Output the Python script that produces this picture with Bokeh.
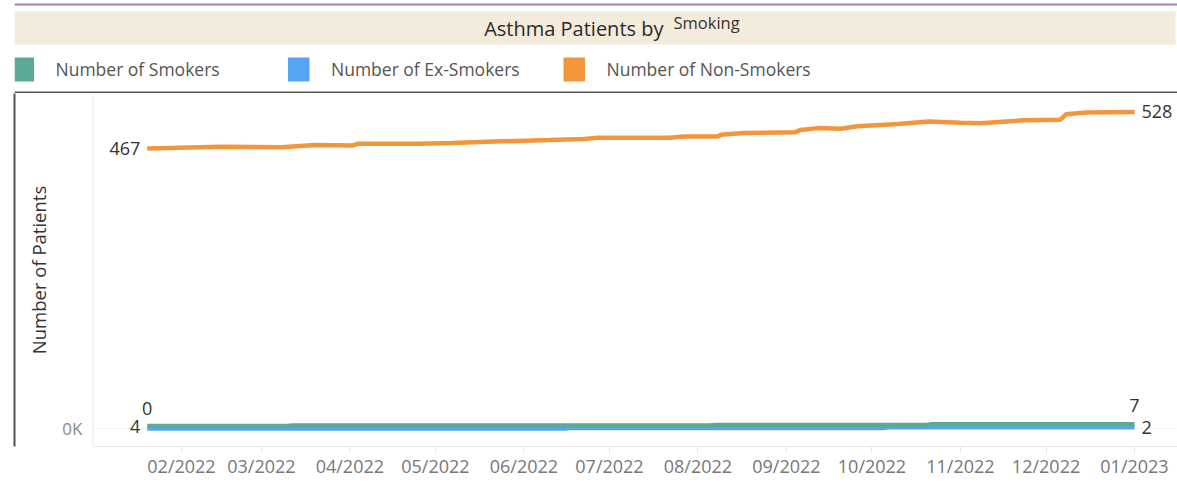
import pandas as pd
from bokeh.plotting import figure
from bokeh.layouts import column
from bokeh.models import (Range1d, FixedTicker, DatetimeTickFormatter, PrintfTickFormatter,
                          Span, BoxAnnotation, ColumnDataSource)
from bokeh.core.properties import value
from bokeh.embed import file_html
from bokeh.resources import INLINE

# ---------------- data ----------------
chart_title = "Asthma Patients by"
title_field = "Smoking"
y_axis_title = "Number of Patients"

series_names = ["Number of Smokers", "Number of Ex-Smokers", "Number of Non-Smokers"]
series_colors = ["#5aaa97", "#55a5f5", "#f2953b"]

smokers_dates = ["2022-01-20", "2022-03-10", "2022-03-12", "2022-08-05", "2022-08-07",
                 "2022-10-20", "2022-10-22", "2023-01-01"]
smokers_values = [4, 4, 5, 5, 6, 6, 7, 7]

ex_smokers_dates = ["2022-01-20", "2022-06-15", "2022-06-17", "2022-10-05", "2022-10-07",
                    "2023-01-01"]
ex_smokers_values = [0, 0, 1, 1, 2, 2]

non_smokers_dates = ["2022-01-20", "2022-02-15", "2022-03-08", "2022-03-20", "2022-04-02",
                     "2022-04-04", "2022-04-25", "2022-05-07", "2022-05-24", "2022-06-10",
                     "2022-06-22", "2022-06-27", "2022-07-22", "2022-07-27", "2022-08-08",
                     "2022-08-09", "2022-08-17", "2022-09-04", "2022-09-06", "2022-09-12",
                     "2022-09-20", "2022-09-26", "2022-10-10", "2022-10-21", "2022-11-01",
                     "2022-11-08", "2022-11-23", "2022-12-06", "2022-12-08", "2022-12-15",
                     "2023-01-01"]
non_smokers_values = [467, 470, 469, 473, 472, 475, 475, 476, 479, 481,
                      483, 485, 485, 487, 487, 490, 493, 494, 498, 501,
                      500, 504, 508, 512, 510, 509, 514, 515, 524, 527,
                      528]

month_ticks = ["2022-02-01", "2022-03-01", "2022-04-01", "2022-05-01", "2022-06-01",
               "2022-07-01", "2022-08-01", "2022-09-01", "2022-10-01", "2022-11-01",
               "2022-12-01", "2023-01-01"]
plot_area_start = "2022-01-01"

# ---------------- layout (page pixel positions) ----------------
FONT = "Open Sans"
FIG_W = 1177
HEAD_H = 93                 # page 0..93
MAIN_H = 485 - HEAD_H       # page 93..485
FRAME_L, FRAME_R, FRAME_T, FRAME_B = 14, 1177, 93, 446

# x scale: anchor dates to page pixels
a_date, a_px = pd.Timestamp("2022-02-01"), 181.0
b_date, b_px = pd.Timestamp("2023-01-01"), 1134.0
px_per_ms = (b_px - a_px) / ((b_date - a_date).total_seconds() * 1000)
x_start = a_date - pd.Timedelta(milliseconds=(a_px - FRAME_L) / px_per_ms)
x_end = b_date + pd.Timedelta(milliseconds=(FRAME_R - b_px) / px_per_ms)

# y scale: zero at page 428, 467 at page 148
zero_px = 428.0
px_per_unit = (428.0 - 148.0) / 467.0
y_start = -(FRAME_B - zero_px) / px_per_unit
y_end = (zero_px - FRAME_T) / px_per_unit

def to_ms(d):
    return (pd.Timestamp(d) - pd.Timestamp("1970-01-01")).total_seconds() * 1000

# ---------------- header: title band + legend ----------------
# (the column aligns this figure's frame with the chart frame, i.e. page x 14..1177)
h = figure(width=FIG_W, height=HEAD_H, x_range=Range1d(FRAME_L, FRAME_R),
           y_range=Range1d(HEAD_H, 0), x_axis_type=None, y_axis_type=None,
           output_backend="svg", toolbar_location=None, min_border=0,
           min_border_left=FRAME_L, min_border_right=0,
           outline_line_color=None, background_fill_color="white", border_fill_color="white")
h.segment(x0=[FRAME_L], y0=[4], x1=[FRAME_R], y1=[4], line_color="#a57db6", line_width=2)
h.quad(left=[FRAME_L], right=[1175], top=[11], bottom=[44], fill_color="#f3ebdc", line_color=None)
h.text(x=[663], y=[28], text=[chart_title], text_align="right", text_baseline="middle",
       text_font=value(FONT), text_font_size="20px", text_color="#2b2b2b")
h.text(x=[673], y=[22], text=[title_field], text_align="left", text_baseline="middle",
       text_font=value(FONT), text_font_size="16.5px", text_color="#333333")
# top border of the chart pane
h.segment(x0=[FRAME_L], y0=[92], x1=[FRAME_R], y1=[92], line_color="#555555", line_width=2)

# legend: colour swatches and labels in fixed-width columns
col_w = 275.5
sw_x = [12 + col_w * i for i in range(len(series_names))]
legend_src = ColumnDataSource(dict(
    left=[max(FRAME_L, x) for x in sw_x], right=[x + 21.5 for x in sw_x],
    top=[57] * len(sw_x), bottom=[81] * len(sw_x),
    tx=[x + 43 for x in sw_x], ty=[68] * len(sw_x),
    color=series_colors, name=series_names))
h.quad(left="left", right="right", top="top", bottom="bottom", fill_color="color",
       line_color=None, source=legend_src)
h.text(x="tx", y="ty", text="name", source=legend_src, text_align="left", text_baseline="middle",
       text_font=value(FONT), text_font_size="17.5px", text_color="#555555")

# ---------------- main chart ----------------
p = figure(width=FIG_W, height=MAIN_H, x_axis_type="datetime",
           x_range=Range1d(x_start, x_end), y_range=Range1d(y_start, y_end),
           output_backend="svg", toolbar_location=None,
           min_border_left=FRAME_L, min_border_right=FIG_W - FRAME_R,
           min_border_top=FRAME_T - HEAD_H, min_border_bottom=485 - FRAME_B,
           outline_line_color=None, background_fill_color="white", border_fill_color="white")
p.xgrid.visible = False
p.ygrid.visible = False

# plot-area left edge line and dotted zero line
p.add_layout(Span(location=pd.Timestamp(plot_area_start), dimension="height",
                  line_color="#ececec", line_width=1))
p.add_layout(BoxAnnotation(left=pd.Timestamp(plot_area_start), top=0, bottom=0,
                           fill_alpha=0, line_color="#aaaaaa", line_dash="1 3", line_width=1))

src_s = ColumnDataSource(dict(x=pd.to_datetime(smokers_dates), y=smokers_values))
src_e = ColumnDataSource(dict(x=pd.to_datetime(ex_smokers_dates), y=ex_smokers_values))
src_n = ColumnDataSource(dict(x=pd.to_datetime(non_smokers_dates), y=non_smokers_values))

p.line("x", "y", source=src_n, line_color=series_colors[2], line_width=4.5)
p.line("x", "y", source=src_e, line_color=series_colors[1], line_width=4.5)
p.line("x", "y", source=src_s, line_color=series_colors[0], line_width=4.5)

# end labels
lab_kw = dict(text_font=value(FONT), text_font_size="18px", text_color="#333333",
              text_baseline="middle")
left_of_start = ColumnDataSource(dict(
    x=pd.to_datetime([non_smokers_dates[0], smokers_dates[0]]),
    y=[non_smokers_values[0], smokers_values[0]],
    t=[str(non_smokers_values[0]), str(smokers_values[0])]))
p.text("x", "y", text="t", source=left_of_start, text_align="right", x_offset=-7, **lab_kw)
above_start = ColumnDataSource(dict(
    x=pd.to_datetime([ex_smokers_dates[0]]), y=[ex_smokers_values[0]],
    t=[str(ex_smokers_values[0])]))
p.text("x", "y", text="t", source=above_start, text_align="center", y_offset=-20, **lab_kw)
right_of_end = ColumnDataSource(dict(
    x=pd.to_datetime([non_smokers_dates[-1], ex_smokers_dates[-1]]),
    y=[non_smokers_values[-1], ex_smokers_values[-1]],
    t=[str(non_smokers_values[-1]), str(ex_smokers_values[-1])]))
p.text("x", "y", text="t", source=right_of_end, text_align="left", x_offset=7, **lab_kw)
above_end = ColumnDataSource(dict(
    x=pd.to_datetime([smokers_dates[-1]]), y=[smokers_values[-1]],
    t=[str(smokers_values[-1])]))
p.text("x", "y", text="t", source=above_end, text_align="center", y_offset=-19, **lab_kw)

# x axis
xa = p.xaxis[0]
xa.ticker = FixedTicker(ticks=[to_ms(d) for d in month_ticks])
xa.formatter = DatetimeTickFormatter(days="%m/%Y", months="%m/%Y", years="%m/%Y",
                                     hours="%m/%Y", minutes="%m/%Y")
xa.bounds = (pd.Timestamp(plot_area_start), x_end)
xa.axis_line_color = "#e6e6e6"
xa.major_tick_line_color = "#e6e6e6"
xa.major_tick_out = 6
xa.major_tick_in = 0
xa.minor_tick_line_color = None
xa.major_label_standoff = 1
xa.major_label_text_font = FONT
xa.major_label_text_font_size = "18px"
xa.major_label_text_color = "#777777"

# y axis (its line is the pane's left border)
ya = p.yaxis[0]
ya.ticker = FixedTicker(ticks=[0])
ya.formatter = PrintfTickFormatter(format="%dK")
ya.axis_line_color = "#555555"
ya.axis_line_width = 2
ya.major_tick_out = 0
ya.major_tick_in = 0
ya.minor_tick_line_color = None
ya.major_label_standoff = -68
ya.major_label_text_font = FONT
ya.major_label_text_font_size = "17px"
ya.major_label_text_color = "#888888"
ya.axis_label = y_axis_title
ya.axis_label_standoff = 8
ya.axis_label_text_font = FONT
ya.axis_label_text_font_size = "18.5px"
ya.axis_label_text_font_style = "normal"
ya.axis_label_text_color = "#333333"

layout = column(h, p, spacing=0)
open("out.html", "w").write(file_html(layout, INLINE))
